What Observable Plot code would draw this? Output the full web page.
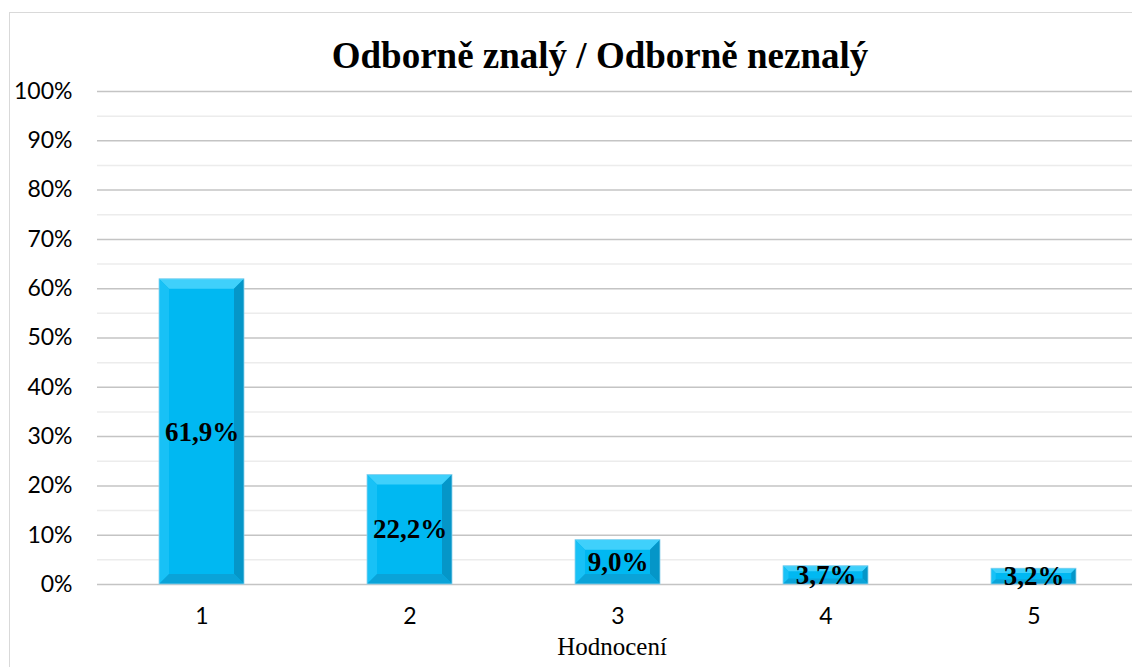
<!DOCTYPE html>
<html>
<head>
<meta charset="utf-8">
<script src="https://cdn.jsdelivr.net/npm/d3@7"></script>
<script src="https://cdn.jsdelivr.net/npm/@observablehq/plot@0.6"></script>
<style>
  html, body { margin: 0; padding: 0; background: #fff; overflow: hidden; }
  body { width: 1132px; height: 667px; position: relative; }
  #chart { position: absolute; left: 0; top: 0; width: 1132px; height: 667px; }
  #chart svg { max-width: none; }
  #frame { position: absolute; left: 9px; top: 12px; width: 1140px; height: 670px;
           border: 1.5px solid #d9d9d9; pointer-events: none; box-sizing: border-box; }
  #clip { position: absolute; left: 0; top: 0; width: 1132px; height: 667px; overflow: hidden; pointer-events: none; }
  #title { position: absolute; left: 0; top: 37px; width: 1200px; text-align: center;
           font-family: "Liberation Serif", "Times New Roman", serif; font-weight: bold;
           font-size: 37px; line-height: 37px; color: #000; white-space: nowrap; }
</style>
</head>
<body>
<div id="clip">
  <div id="title">Odborně znalý / Odborně neznalý</div>
  <div id="frame"></div>
</div>
<div id="chart"></div>
<script>
// ---- data ----
const categories = ["1", "2", "3", "4", "5"];
const shares = [0.619, 0.222, 0.090, 0.037, 0.032];
const majorTicks = [0, 0.1, 0.2, 0.3, 0.4, 0.5, 0.6, 0.7, 0.8, 0.9, 1.0];
const minorTicks = [0.05, 0.15, 0.25, 0.35, 0.45, 0.55, 0.65, 0.75, 0.85, 0.95];
const xLabel = "Hodnocení";

const data = categories.map((k, i) => ({k, v: shares[i]}));
const fmt = v => (v * 100).toFixed(1).replace(".", ",") + "%";

const FACE = "#00B8F2";
const NS = "http://www.w3.org/2000/svg";

function bevel(index, scales, values, dims, ctx, next) {
  const g = next(index, scales, values, dims, ctx);
  const doc = ctx.document;
  const rects = Array.from(g.querySelectorAll("rect"));
  for (const r of rects) {
    const x0 = +r.getAttribute("x"), y0 = +r.getAttribute("y");
    const w = +r.getAttribute("width"), h = +r.getAttribute("height");
    const x1 = x0 + w, y1 = y0 + h;
    const b = Math.min(10, h * 0.3, w * 0.3);
    const polys = [
      [[[x0,y0],[x1,y0],[x1-b,y0+b],[x0+b,y0+b]], "#3FD0FB"],   // top
      [[[x0,y0],[x0+b,y0+b],[x0+b,y1-b],[x0,y1]], "#18C1F6"],   // left
      [[[x1,y0],[x1,y1],[x1-b,y1-b],[x1-b,y0+b]], "#0596C8"],   // right
      [[[x0,y1],[x1,y1],[x1-b,y1-b],[x0+b,y1-b]], "#0AA3D8"]    // bottom
    ];
    for (const [pts, col] of polys) {
      const p = doc.createElementNS(NS, "polygon");
      p.setAttribute("points", pts.map(q => q.join(",")).join(" "));
      p.setAttribute("fill", col);
      g.appendChild(p);
    }
    const o = doc.createElementNS(NS, "rect");
    o.setAttribute("x", x0); o.setAttribute("y", y0);
    o.setAttribute("width", w); o.setAttribute("height", h);
    o.setAttribute("fill", "none"); o.setAttribute("stroke", "#8fd3ee"); o.setAttribute("stroke-width", 0.8);
    g.appendChild(o);
  }
  return g;
}

const plot = Plot.plot({
  width: 1132,
  height: 667,
  marginTop: 91,
  marginBottom: 83,
  marginLeft: 97,
  marginRight: 0,
  style: {background: "transparent", fontFamily: "Lato, 'Open Sans', sans-serif", fontSize: "23px", color: "#000"},
  x: {type: "band", domain: categories, range: [96.6, 1138.6], paddingInner: 0.592, paddingOuter: 0.296, label: null},
  y: {domain: [0, 1], label: null},
  marks: [
    Plot.ruleY(minorTicks, {stroke: "#ececec", strokeWidth: 1.5}),
    Plot.ruleY(majorTicks, {stroke: "#c4c4c4", strokeWidth: 1.5}),
    Plot.axisY({ticks: majorTicks, tickSize: 0, tickPadding: 25, tickFormat: d => Math.round(d * 100) + "%",
                fontSize: 23, fill: "#000", label: null}),
    Plot.axisX({tickSize: 0, tickPadding: 23, fontSize: 23, fill: "#000", label: null}),
    Plot.barY(data, {x: "k", y: "v", fill: FACE, render: bevel}),
    Plot.text(data, {x: "k", y: d => d.v / 2, text: d => fmt(d.v),
                     fontFamily: "Liberation Serif, 'Times New Roman', serif", fontWeight: "bold",
                     fontSize: 27, fill: "#000"}),
    Plot.text([xLabel], {frameAnchor: "bottom", dy: 70, dx: -3,
                     fontFamily: "Liberation Serif, 'Times New Roman', serif", fontSize: 25, fill: "#000"})
  ]
});
document.getElementById("chart").appendChild(plot);
</script>
</body>
</html>
